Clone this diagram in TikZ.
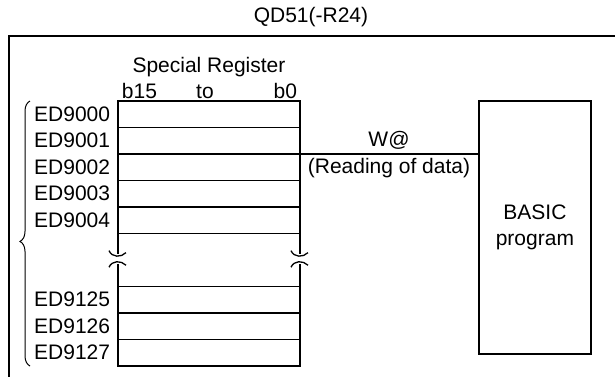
\documentclass[tikz,border=0pt]{standalone}
\usepackage{fontspec}
\setmainfont{Liberation Sans}
\usetikzlibrary{positioning,calc,decorations.pathreplacing}

\begin{document}
\begin{tikzpicture}[x=1pt,y=-1pt,line width=1.8pt,
    txt/.style={font=\fontsize{21}{26}\selectfont,inner sep=0pt},
    reg/.style={rectangle,draw,minimum width=182pt,minimum height=26.5pt,
                inner sep=0pt,outer sep=0pt},
    addr/.style={txt,anchor=east},
    prog/.style={rectangle,draw,txt,minimum width=112pt,minimum height=253pt,
                 align=center,anchor=north west},
    brkup/.pic={\draw[line width=1.3pt] (-9,-3) .. controls (-6,4) and (3,4) .. (8,-1);},
    brkdn/.pic={\draw[line width=1.3pt] (-9,3) .. controls (-6,-4) and (3,-4) .. (8,1);},
  ]
    \useasboundingbox (0,0) rectangle (615,376);

    % module frame and its name
    \node[txt] (title) at (311,17) {QD51(-R24)};
    \draw (9,380) -- (9,36) -- (620,36);

    % special register rows
    \node[reg,anchor=north west] (r0) at (118,101) {};
    \node[reg,below=0pt of r0] (r1) {};
    \node[reg,below=0pt of r1] (r2) {};
    \node[reg,below=0pt of r2] (r3) {};
    \node[reg,below=0pt of r3] (r4) {};
    \node[reg,below=53pt of r4] (r7) {};
    \node[reg,below=0pt of r7] (r8) {};
    \node[reg,below=0pt of r8] (r9) {};

    % broken sides between ED9004 and ED9125
    \coordinate (gl1) at ($(r4.south west)!0.38!(r7.north west)$);
    \coordinate (gl2) at ($(r4.south west)!0.58!(r7.north west)$);
    \coordinate (gr1) at ($(r4.south east)!0.38!(r7.north east)$);
    \coordinate (gr2) at ($(r4.south east)!0.58!(r7.north east)$);
    \draw (r4.south west) -- (gl1) (gl2) -- (r7.north west);
    \draw (r4.south east) -- (gr1) (gr2) -- (r7.north east);
    \pic at (gl1) {brkup};
    \pic at (gl2) {brkdn};
    \pic at (gr1) {brkup};
    \pic at (gr2) {brkdn};

    % addresses
    \node[addr,left=7pt of r0] (a0) {ED9000};
    \node[addr,left=7pt of r1] (a1) {ED9001};
    \node[addr,left=7pt of r2] (a2) {ED9002};
    \node[addr,left=7pt of r3] (a3) {ED9003};
    \node[addr,left=7pt of r4] (a4) {ED9004};
    \node[addr,left=7pt of r7] (a7) {ED9125};
    \node[addr,left=7pt of r8] (a8) {ED9126};
    \node[addr,left=7pt of r9] (a9) {ED9127};
    \draw[line width=1pt,decorate,decoration={brace,amplitude=10pt,aspect=0.47}]
      ([xshift=-88pt]r9.south west) -- ([xshift=-88pt]r0.north west);

    % header above the register
    \node[txt,anchor=base] (head) at ($(r0.north)+(0,-29)$) {Special Register};
    \node[txt,anchor=base west] (bhi) at ($(r0.north west)+(3,-3)$) {b15};
    \node[txt,anchor=base] (bto) at ($(r0.north)+(-4,-3)$) {to};
    \node[txt,anchor=base east] (blo) at ($(r0.north east)+(-2,-3)$) {b0};

    % program side
    \node[prog] (basic) at (478,100) {BASIC\\program};
    \draw (r1.south east) -- (r1.south east -| basic.west)
      node[txt,midway,above=4pt] (wat) {W@}
      node[txt,midway,below=3pt] (rdd) {(Reading of data)};
  \end{tikzpicture}
\end{document}
